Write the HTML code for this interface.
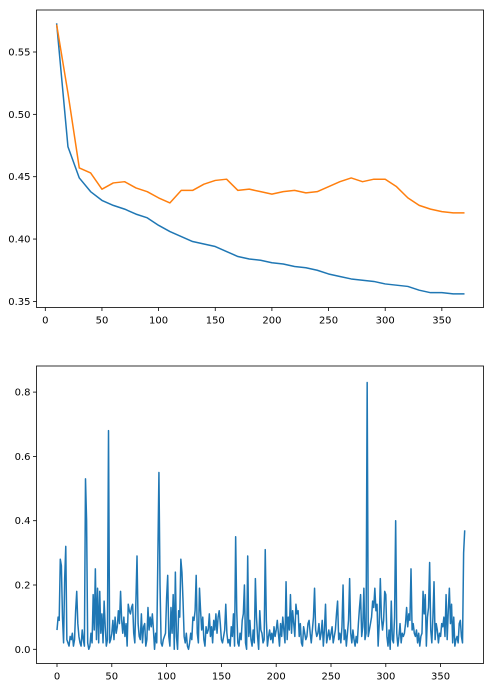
<!DOCTYPE html>
<html><head><meta charset="utf-8"><style>
body{margin:0;background:#fff;}
svg{display:block;font-family:"DejaVu Sans","Liberation Sans",sans-serif;font-size:10px;}
</style></head><body>
<svg id="chart" width="493" height="687" viewBox="0 0 493 687" xmlns="http://www.w3.org/2000/svg">
<g id="top"></g>
<g id="bot"></g>
</svg>
<script>
const topX = [10,20,30,40,50,60,70,80,90,100,110,120,130,140,150,160,170,180,190,200,210,220,230,240,250,260,270,280,290,300,310,320,330,340,350,360,370];
const blueSeries = [0.573,0.474,0.449,0.438,0.431,0.427,0.424,0.420,0.417,0.411,0.406,0.402,0.398,0.396,0.394,0.390,0.386,0.384,0.383,0.381,0.380,0.378,0.377,0.375,0.372,0.370,0.368,0.367,0.366,0.364,0.363,0.362,0.359,0.357,0.357,0.356,0.356];
const orangeSeries = [0.572,0.517,0.457,0.453,0.440,0.445,0.446,0.441,0.438,0.433,0.429,0.439,0.439,0.444,0.447,0.448,0.439,0.440,0.438,0.436,0.438,0.439,0.437,0.438,0.442,0.446,0.449,0.446,0.448,0.448,0.442,0.433,0.427,0.424,0.422,0.421,0.421];
const topXTicks = [0,50,100,150,200,250,300,350];
const topYTicks = [0.35,0.40,0.45,0.50,0.55];
const botSeries = [
0.06,0.10,0.09,0.28,0.26,0.10,0.02,0.22,0.32,0.03,0.02,0.01,0.04,0.03,0.05,0.01,0.03,0.12,0.18,0.08,
0.04,0.02,0.01,0.06,0.03,0.01,0.53,0.40,0.02,0.00,0.01,0.05,0.02,0.17,0.06,0.25,0.03,0.19,0.02,0.18,
0.05,0.11,0.02,0.15,0.07,0.01,0.03,0.68,0.02,0.03,0.05,0.09,0.03,0.10,0.05,0.07,0.12,0.08,0.18,0.09,
0.05,0.10,0.04,0.08,0.01,0.14,0.12,0.11,0.13,0.14,0.05,0.02,0.15,0.29,0.08,0.04,0.03,0.11,0.02,0.07,
0.08,0.01,0.03,0.13,0.06,0.10,0.07,0.11,0.06,0.00,0.05,0.02,0.28,0.55,0.20,0.02,0.01,0.03,0.04,0.05,
0.16,0.23,0.04,0.01,0.13,0.05,0.17,0.00,0.24,0.04,0.00,0.12,0.10,0.28,0.24,0.15,0.04,0.02,0.05,0.01,
0.00,0.02,0.05,0.03,0.10,0.09,0.12,0.23,0.05,0.02,0.19,0.12,0.06,0.10,0.03,0.01,0.07,0.05,0.06,0.11,
0.04,0.07,0.02,0.09,0.06,0.11,0.05,0.10,0.12,0.08,0.03,0.02,0.04,0.06,0.14,0.05,0.02,0.03,0.01,0.07,
0.04,0.11,0.01,0.35,0.12,0.02,0.01,0.05,0.03,0.09,0.11,0.20,0.02,0.00,0.29,0.04,0.09,0.03,0.01,0.06,
0.02,0.22,0.10,0.04,0.00,0.12,0.06,0.05,0.02,0.03,0.31,0.09,0.01,0.04,0.06,0.03,0.05,0.02,0.07,0.04,
0.06,0.09,0.05,0.01,0.08,0.04,0.10,0.06,0.02,0.21,0.03,0.10,0.06,0.17,0.05,0.12,0.08,0.04,0.14,0.11,
0.12,0.04,0.08,0.02,0.01,0.07,0.05,0.03,0.04,0.08,0.09,0.05,0.02,0.06,0.10,0.19,0.06,0.04,0.05,0.08,
0.03,0.05,0.09,0.01,0.06,0.14,0.02,0.04,0.06,0.03,0.05,0.07,0.02,0.04,0.06,0.11,0.15,0.03,0.05,0.02,
0.07,0.20,0.03,0.06,0.01,0.05,0.09,0.22,0.05,0.02,0.06,0.03,0.01,0.04,0.02,0.08,0.13,0.17,0.04,0.07,
0.19,0.03,0.05,0.83,0.04,0.06,0.08,0.10,0.15,0.13,0.19,0.12,0.14,0.01,0.08,0.22,0.10,0.06,0.09,0.18,
0.17,0.04,0.01,0.06,0.00,0.15,0.03,0.02,0.10,0.40,0.05,0.01,0.04,0.08,0.02,0.05,0.04,0.05,0.08,0.13,
0.07,0.11,0.09,0.25,0.06,0.08,0.05,0.04,0.06,0.02,0.05,0.01,0.04,0.05,0.18,0.11,0.17,0.01,0.10,0.13,
0.27,0.06,0.02,0.10,0.21,0.03,0.08,0.06,0.02,0.05,0.04,0.08,0.07,0.10,0.04,0.17,0.03,0.12,0.19,0.08,
0.14,0.02,0.10,0.01,0.03,0.04,0.02,0.08,0.09,0.04,0.02,0.30,0.37];
const botXTicks = [0,50,100,150,200,250,300,350];
const botYTicks = [0.0,0.2,0.4,0.6,0.8];

const NS='http://www.w3.org/2000/svg';
function mk(parent,tag,attrs,text){const e=document.createElementNS(NS,tag);for(const k in attrs)e.setAttribute(k,attrs[k]);if(text!==undefined)e.textContent=text;parent.appendChild(e);return e;}

function drawAxes(g,box,sx,sy,xt,yt,fmt,prefix){
  for(const t of xt){
    const x=sx(t);
    const tk=mk(g,'line',{x1:x,x2:x,y1:box.b,y2:box.b+3.5,stroke:'#000','stroke-width':0.8});
    
    
    const lb=mk(g,'text',{x:x,y:box.b+16,'text-anchor':'middle',fill:'#000'},String(t));
    
    
  }
  for(const t of yt){
    const y=sy(t);
    const tk=mk(g,'line',{x1:box.l-3.5,x2:box.l,y1:y,y2:y,stroke:'#000','stroke-width':0.8});
    
    
    const lb=mk(g,'text',{x:box.l-6,y:y+3.5,'text-anchor':'end',fill:'#000'},t.toFixed(fmt));
    
    
  }
  const fr=mk(g,'rect',{x:box.l,y:box.t,width:box.r-box.l,height:box.b-box.t,fill:'none',stroke:'#000','stroke-width':0.8});
  
  
}
function line(g,xs,ys,sx,sy,color,name){
  const d=xs.map((x,i)=>(i?'L':'M')+sx(x).toFixed(2)+','+sy(ys[i]).toFixed(2)).join('');
  const p=mk(g,'path',{d:d,fill:'none',stroke:color,'stroke-width':1.5,'stroke-linejoin':'round'});
  
  
}
// top
const gt=document.getElementById('top');
const tb={l:36.5,r:483.5,t:10,b:307.5};
const tsx=v=>45.3+1.133*v;
const tsy=v=>52-(v-0.55)*1247;
drawAxes(gt,tb,tsx,tsy,topXTicks,topYTicks,2,'top');
line(gt,topX,blueSeries,tsx,tsy,'#1f77b4','blue-series-line');
line(gt,topX,orangeSeries,tsx,tsy,'#ff7f0e','orange-series-line');
// bottom
const gb=document.getElementById('bot');
const bb={l:36.5,r:483.5,t:366,b:663.5};
const bsx=v=>57+1.096*v;
const bsy=v=>649.3-321.5*v;
drawAxes(gb,bb,bsx,bsy,botXTicks,botYTicks,1,'bottom');
line(gb,botSeries.map((_,i)=>i),botSeries,bsx,bsy,'#1f77b4','bottom-series-line');
</script>
</body></html>
